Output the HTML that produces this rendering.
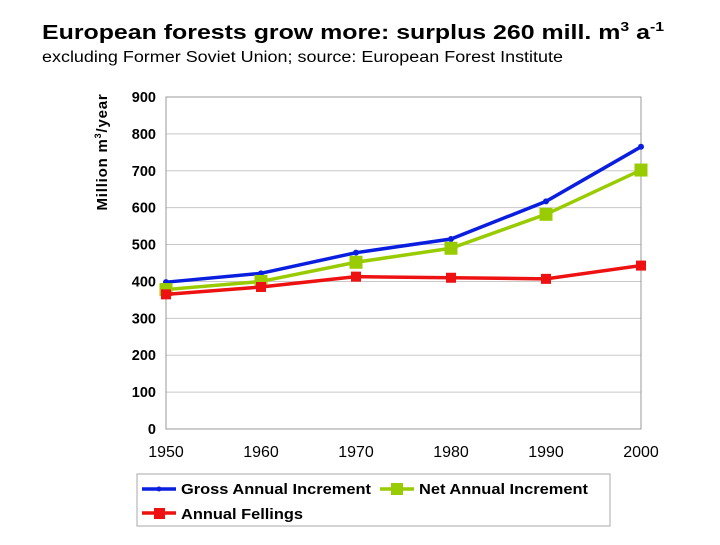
<!DOCTYPE html>
<html><head><meta charset="utf-8"><style>
body{margin:0;background:#fff;width:720px;height:540px;overflow:hidden;font-family:"Liberation Sans",Arial,sans-serif}
</style></head><body>
<svg width="720" height="540" font-family="Liberation Sans, Arial, sans-serif">
<text x="42" y="39" font-size="20.5" font-weight="bold" textLength="622" lengthAdjust="spacingAndGlyphs">European forests grow more: surplus 260 mill. m<tspan dy="-8" font-size="13">3</tspan><tspan dy="8"> a</tspan><tspan dy="-8" font-size="13">-1</tspan></text>
<text x="42" y="62" font-size="15.5" textLength="521" lengthAdjust="spacingAndGlyphs">excluding Former Soviet Union; source: European Forest Institute</text>
<text transform="translate(107,152) rotate(-90)" text-anchor="middle" font-size="15" font-weight="bold" letter-spacing="0.8">Million m<tspan dy="-6" font-size="9">3</tspan><tspan dy="6">/year</tspan></text>
<g id="grid"></g>
<g id="series"></g>
<rect x="137" y="474" width="473" height="52" fill="#fff" stroke="#aaa"/>
<g>
<line x1="142" y1="489" x2="176" y2="489" stroke="#0a1ee0" stroke-width="3.5"/><circle cx="159" cy="489" r="2.5" fill="#0a1ee0"/>
<text x="181" y="494" font-size="14.5" font-weight="bold" textLength="190" lengthAdjust="spacingAndGlyphs">Gross Annual Increment</text></g>
<g>
<line x1="380" y1="489" x2="414" y2="489" stroke="#99cc00" stroke-width="3.5"/><rect x="391" y="483" width="12" height="12" fill="#99cc00"/>
<text x="419" y="494" font-size="14.5" font-weight="bold" textLength="169" lengthAdjust="spacingAndGlyphs">Net Annual Increment</text></g>
<g>
<line x1="142" y1="513" x2="176" y2="513" stroke="#ee1111" stroke-width="3.5"/><rect x="154" y="508" width="11" height="11" fill="#ee1111"/>
<text x="181" y="519" font-size="14.5" font-weight="bold" textLength="122" lengthAdjust="spacingAndGlyphs">Annual Fellings</text></g>
</svg>
<script>
const years=[1950,1960,1970,1980,1990,2000];
const yTicks=[0,100,200,300,400,500,600,700,800,900];
const gross=[398,422,478,515,617,765];
const net=[378,400,452,490,582,702];
const fellings=[365,385,413,410,407,443];
const X0=166,X1=641,Y0=429,Y1=97;
const NS='http://www.w3.org/2000/svg';
function xs(i){return X0+(X1-X0)*i/(years.length-1);}
function ys(v){return Y0-(Y0-Y1)*v/900;}
function mk(t,a,p){const e=document.createElementNS(NS,t);for(const k in a)e.setAttribute(k,a[k]);p.appendChild(e);return e;}
const g=document.getElementById('grid');
yTicks.forEach(v=>{
 const l=mk('line',{x1:X0,x2:X1,y1:ys(v),y2:ys(v),stroke:v===0?'#888':'#c8c8c8','stroke-width':1},g);
 
 
 const t=mk('text',{x:X0-10,y:ys(v)+5,'text-anchor':'end','font-size':14.5,'font-weight':'bold'},g);
 t.textContent=v;
 
 
});
mk('rect',{x:X0,y:Y1,width:X1-X0,height:Y0-Y1,fill:'none',stroke:'#999'},g);
years.forEach((y,i)=>{
 const t=mk('text',{x:xs(i),y:457,'text-anchor':'middle','font-size':16},g);
 t.textContent=y;
 
 
});
const s=document.getElementById('series');
function series(vals,color,name,marker){
 const p=mk('polyline',{points:vals.map((v,i)=>xs(i)+','+ys(v)).join(' '),fill:'none',stroke:color,'stroke-width':3.5},s);
 
 
 vals.forEach((v,i)=>{
  let m;
  if(marker==='d') m=mk('circle',{cx:xs(i),cy:ys(v),r:3,fill:color},s);
  else m=mk('rect',{x:xs(i)-marker/2,y:ys(v)-marker/2,width:marker,height:marker,fill:color},s);
  
  
 });
}
series(gross,'#0a1ee0','gross','d');
series(net,'#99cc00','net',13);
series(fellings,'#ee1111','fellings',10);
</script>
</body></html>
